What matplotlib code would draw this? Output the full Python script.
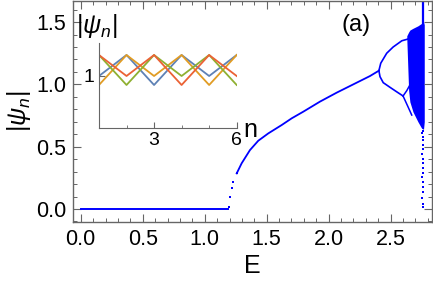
import matplotlib
matplotlib.use("Agg")
import matplotlib.pyplot as plt

plt.rcParams['font.family'] = ['Liberation Sans', 'DejaVu Sans']
plt.rcParams['mathtext.fontset'] = 'custom'
plt.rcParams['mathtext.rm'] = 'Liberation Sans'
plt.rcParams['mathtext.it'] = 'Liberation Sans:italic'

# flat branch (psi = 0)
flat_E = [0.0, 1.19]
flat_psi = [0.0, 0.0]

# single branch after the jump
branch_E = [1.195, 1.204, 1.218, 1.231, 1.258, 1.298, 1.365, 1.432, 1.513, 1.621,
            1.702, 1.795, 1.93, 2.065, 2.198, 2.333, 2.405]
branch_psi = [0.02, 0.094, 0.166, 0.219, 0.286, 0.367, 0.473, 0.548, 0.607, 0.674,
              0.728, 0.781, 0.862, 0.934, 1.0, 1.067, 1.11]

# period-2 branches
upper_E = [2.405, 2.42, 2.468, 2.52, 2.59, 2.64, 2.655]
upper_psi = [1.11, 1.17, 1.25, 1.30, 1.35, 1.364, 1.37]
lower_E = [2.405, 2.414, 2.44, 2.494, 2.548, 2.60]
lower_psi = [1.11, 1.062, 1.014, 0.977, 0.941, 0.907]

# period-4 split of the lower branch
split_up_E = [2.60, 2.63, 2.655]
split_up_psi = [0.907, 0.95, 0.995]
split_dn_E = [2.60, 2.64, 2.67]
split_dn_psi = [0.907, 0.82, 0.754]

# chaotic band
band_E = [2.63, 2.645, 2.655, 2.68, 2.72, 2.75, 2.765, 2.771]
band_top = [1.39, 1.42, 1.436, 1.45, 1.47, 1.49, 1.50, 1.48]
band_bot = [1.37, 0.95, 0.86, 0.78, 0.70, 0.648, 0.64, 0.70]

# scattered tail below and above the band
tail_E = [2.757, 2.758, 2.756, 2.759, 2.757, 2.758, 2.756, 2.759, 2.758, 2.757,
          2.758, 2.756, 2.759, 2.757, 2.758, 2.757, 2.756, 2.758]
tail_psi = [0.02, 0.04, 0.09, 0.14, 0.18, 0.22, 0.26, 0.29, 0.33, 0.37,
            0.40, 0.44, 0.48, 0.51, 0.55, 0.58, 0.61, 0.63]
top_E = [2.757, 2.757]
top_psi = [1.49, 1.70]

# inset data
n = [1, 2, 3, 4, 5, 6]
inset_blue = [1.0, 1.21, 0.91, 1.21, 1.0, 1.21]
inset_orange = [0.91, 1.21, 1.0, 1.21, 0.91, 1.21]
inset_green = [1.21, 0.91, 1.21, 1.0, 1.21, 0.91]
inset_red = [1.21, 1.0, 1.21, 0.91, 1.21, 1.0]

blue = '#0000ff'
frame = '#666666'

fig = plt.figure(figsize=(4.33, 2.90), dpi=100)
ax = fig.add_axes([0.1693, 0.2345, 0.8277, 0.762])

ax.plot(flat_E, flat_psi, color=blue, lw=1.4)
ax.plot(branch_E[4:], branch_psi[4:], color=blue, lw=1.3)
ax.plot(branch_E[:5], branch_psi[:5], 's', color=blue, ms=1.8, mew=0)
ax.plot(upper_E, upper_psi, color=blue, lw=1.2)
ax.plot(lower_E, lower_psi, color=blue, lw=1.2)
ax.plot(split_up_E, split_up_psi, color=blue, lw=1.1)
ax.plot(split_dn_E, split_dn_psi, color=blue, lw=1.1)
ax.fill_between(band_E, band_bot, band_top, color=blue, lw=0)
ax.plot(tail_E, tail_psi, 's', color=blue, ms=1.8, mew=0)
ax.plot(top_E, top_psi, color=blue, lw=1.6)

ax.set_xlim(-0.06, 2.831)
ax.set_ylim(-0.104, 1.669)
ax.set_xticks([0.0, 0.5, 1.0, 1.5, 2.0, 2.5])
ax.set_xticks([i / 10 for i in range(0, 29)], minor=True)
ax.set_yticks([0.0, 0.5, 1.0, 1.5])
ax.set_yticks([i / 10 for i in range(-1, 17)], minor=True)
ax.xaxis.set_major_formatter(matplotlib.ticker.FormatStrFormatter('%.1f'))
ax.yaxis.set_major_formatter(matplotlib.ticker.FormatStrFormatter('%.1f'))
ax.tick_params(which='both', direction='in', top=True, right=True,
               color=frame, labelsize=15.5, pad=5)
ax.tick_params(which='major', length=6, width=0.8)
ax.tick_params(which='minor', length=3, width=0.7)
for s in ax.spines.values():
    s.set_color(frame)
    s.set_linewidth(1.0)

ax.set_xlabel('E', fontsize=18, labelpad=3)
ax.set_ylabel(r'$|\psi_n|$', fontsize=18, labelpad=2)
ax.text(0.789, 0.891, '(a)', transform=ax.transAxes, fontsize=17,
        ha='center', va='center')

# inset
ins = fig.add_axes([0.2286, 0.5597, 0.318, 0.291])
ins.plot(n, inset_blue, color='#5e81b5', lw=1.3)
ins.plot(n, inset_orange, color='#e19c24', lw=1.3)
ins.plot(n, inset_green, color='#8fb032', lw=1.3)
ins.plot(n, inset_red, color='#eb6235', lw=1.3)
ins.set_xlim(1, 6)
ins.set_ylim(0.483, 1.327)
ins.set_xticks([3, 6])
ins.set_xticks([1, 2, 3, 4, 5, 6], minor=True)
ins.set_yticks([1])
ins.patch.set_alpha(0)
for side in ['top', 'right']:
    ins.spines[side].set_visible(False)
for side in ['left', 'bottom']:
    ins.spines[side].set_color(frame)
ins.tick_params(which='both', direction='in', color=frame, labelsize=14, pad=3)
ins.tick_params(which='major', length=4)
ins.tick_params(which='minor', length=2)
fig.text(97 / 433, 1 - 26 / 290, r'$|\psi_n|$', fontsize=18, ha='center', va='center')
fig.text(250 / 433, 1 - 130 / 290, 'n', fontsize=18, ha='center', va='center')

fig.savefig('out.png', dpi=100)
